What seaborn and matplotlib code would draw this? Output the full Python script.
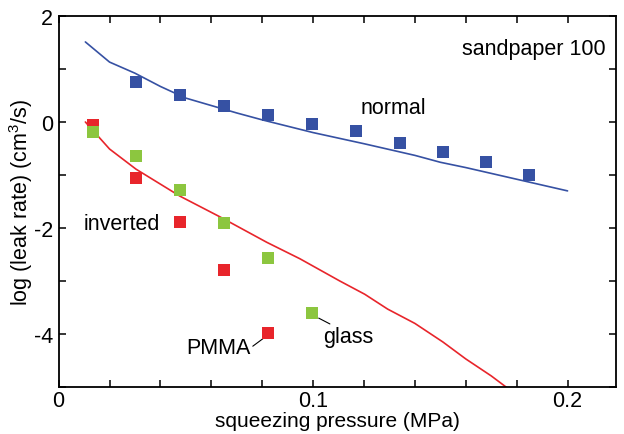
import numpy as np
import pandas as pd
import matplotlib
matplotlib.use("Agg")
import matplotlib.pyplot as plt
import seaborn as sns
from matplotlib.ticker import MultipleLocator, FuncFormatter

sns.set_theme(style="ticks")
plt.rcParams['font.family'] = ['Liberation Sans', 'DejaVu Sans']
plt.rcParams['text.color'] = 'black'
plt.rcParams['axes.labelcolor'] = 'black'
plt.rcParams['mathtext.fontset'] = 'custom'
plt.rcParams['mathtext.rm'] = 'Liberation Sans'
plt.rcParams['mathtext.it'] = 'Liberation Sans:italic'

# squares: pressure (MPa), log leak rate
normal_x = [0.0304, 0.0477, 0.065, 0.0822, 0.0995, 0.1168, 0.134, 0.151, 0.168, 0.185]
normal_y = [0.76, 0.51, 0.30, 0.13, -0.04, -0.17, -0.40, -0.57, -0.75, -1.00]

pmma_x = [0.0135, 0.0304, 0.0477, 0.065, 0.0822]
pmma_y = [-0.06, -1.06, -1.88, -2.79, -3.98]

glass_x = [0.0135, 0.0304, 0.0477, 0.065, 0.0822, 0.0996]
glass_y = [-0.19, -0.64, -1.28, -1.91, -2.57, -3.61]

# theory curves
top_x = [0.0105, 0.02, 0.03, 0.04, 0.05, 0.06, 0.07, 0.08, 0.09, 0.10,
         0.12, 0.14, 0.15, 0.16, 0.18, 0.20]
top_y = [1.51, 1.13, 0.92, 0.67, 0.45, 0.31, 0.17, 0.04, -0.08, -0.20,
         -0.41, -0.63, -0.76, -0.86, -1.08, -1.30]

bot_x = [0.0105, 0.02, 0.0304, 0.0477, 0.0634, 0.0818, 0.0948, 0.1105,
         0.1203, 0.1293, 0.14, 0.151, 0.160, 0.170, 0.180]
bot_y = [0.0, -0.51, -0.89, -1.40, -1.79, -2.27, -2.58, -3.0,
         -3.25, -3.53, -3.80, -4.15, -4.47, -4.79, -5.15]

blue = "#3651a3"
red = "#e8252b"
green = "#8cc63f"

fig = plt.figure(figsize=(6.24, 4.35), dpi=100)
ax = fig.add_axes([0.094, 0.108, 0.893, 0.853])

sns.lineplot(x=top_x, y=top_y, ax=ax, color=blue, lw=1.2, sort=False)
sns.lineplot(x=bot_x, y=bot_y, ax=ax, color=red, lw=1.2, sort=False)

ms = 85
sns.scatterplot(x=normal_x, y=normal_y, ax=ax, marker="s", s=ms, color=blue, linewidth=0, zorder=3)
sns.scatterplot(x=pmma_x, y=pmma_y, ax=ax, marker="s", s=ms, color=red, linewidth=0, zorder=3)
sns.scatterplot(x=glass_x, y=glass_y, ax=ax, marker="s", s=ms, color=green, linewidth=0, zorder=4)

ax.set_xlim(0, 0.219)
ax.set_ylim(-5, 2)

ax.xaxis.set_major_locator(MultipleLocator(0.1))
ax.xaxis.set_minor_locator(MultipleLocator(0.02))
ax.yaxis.set_major_locator(MultipleLocator(2))
ax.yaxis.set_minor_locator(MultipleLocator(1))
ax.xaxis.set_major_formatter(FuncFormatter(lambda v, p: "0" if abs(v) < 1e-9 else f"{v:.1f}"))
ax.yaxis.set_major_formatter(FuncFormatter(lambda v, p: f"{int(round(v))}"))

fs = 15.5
ax.tick_params(which="both", direction="in", top=True, right=True, length=5, width=1.1,
               color="black", labelsize=fs, labelcolor="black")
ax.tick_params(axis="x", pad=2)
ax.tick_params(axis="y", pad=4)
for sp in ax.spines.values():
    sp.set_linewidth(1.3)
    sp.set_color("black")

ax.set_xlabel("squeezing pressure (MPa)", fontsize=15, labelpad=0.5)
ax.set_ylabel("log (leak rate) (cm$^3$/s)", fontsize=fs, labelpad=-1)

ax.text(0.215, 1.38, "sandpaper 100", fontsize=fs, ha="right", va="center")
ax.text(0.1315, 0.27, "normal", fontsize=fs, ha="center", va="center")
ax.text(0.0098, -1.91, "inverted", fontsize=fs, ha="left", va="center")
ax.text(0.0503, -4.25, "PMMA", fontsize=fs, ha="left", va="center")
ax.plot([0.0763, 0.0805], [-4.23, -4.08], color="black", lw=0.8)
ax.text(0.104, -4.05, "glass", fontsize=fs, ha="left", va="center")
ax.plot([0.1022, 0.1066], [-3.7, -3.81], color="black", lw=0.8)

fig.savefig("out.png", dpi=100)
